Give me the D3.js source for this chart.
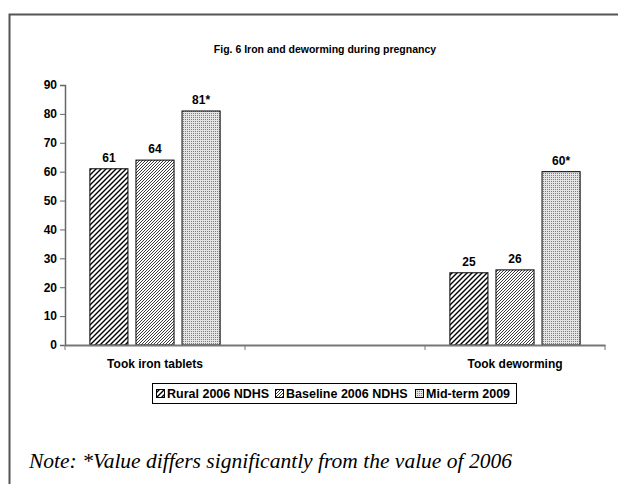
<!DOCTYPE html>
<html>
<head>
<meta charset="utf-8">
<script src="https://cdn.jsdelivr.net/npm/d3@7"></script>
<style>
  body { margin: 0; background: #fff; }
  text { font-family: "Liberation Sans", Arial, sans-serif; }
</style>
</head>
<body>
<div class="chart"></div>
<script>
// chart data
var categories = ["Took iron tablets", "", "Took deworming"];
var seriesNames = ["Rural 2006 NDHS", "Baseline 2006 NDHS", "Mid-term 2009"];
var rural = [61, null, 25];
var baseline = [64, null, 26];
var midterm = [81, null, 60];
var valueLabels = [["61", "64", "81*"], ["", "", ""], ["25", "26", "60*"]];
var yTicks = [0, 10, 20, 30, 40, 50, 60, 70, 80, 90];

var svgWidth = 618, svgHeight = 484;
var margin = { top: 85, left: 65, right: 13, bottom: 139 };
var width = svgWidth - margin.left - margin.right;
var height = svgHeight - margin.top - margin.bottom;

var svg = d3.select(".chart").append("svg")
  .attr("width", svgWidth)
  .attr("height", svgHeight);

// fill patterns
var defs = svg.append("defs");

var p1 = defs.append("pattern").attr("id", "pat0")
  .attr("patternUnits", "userSpaceOnUse").attr("width", 5).attr("height", 5);
p1.append("rect").attr("width", 5).attr("height", 5).attr("fill", "#fff");
p1.append("path").attr("d", "M-1,1 l2,-2 M0,5 l5,-5 M4,6 l2,-2")
  .attr("stroke", "#000").attr("stroke-width", 1.4);

// fine diagonal, drawn pixel by pixel
var p2 = defs.append("pattern").attr("id", "pat1")
  .attr("patternUnits", "userSpaceOnUse").attr("width", 3).attr("height", 3);
p2.append("rect").attr("width", 3).attr("height", 3).attr("fill", "#fff");
[[0, 2], [1, 1], [2, 0]].forEach(function (p) {
  p2.append("rect").attr("x", p[0]).attr("y", p[1])
    .attr("width", 1).attr("height", 1)
    .attr("fill", "#3a3a3a").attr("shape-rendering", "crispEdges");
});

var p3 = defs.append("pattern").attr("id", "pat2")
  .attr("patternUnits", "userSpaceOnUse").attr("width", 2).attr("height", 2);
p3.append("rect").attr("width", 2).attr("height", 2).attr("fill", "#e4e4e4");
p3.append("rect").attr("width", 1).attr("height", 1).attr("fill", "#808080")
  .attr("shape-rendering", "crispEdges");

// outer frame
svg.append("path")
  .attr("d", "M9.5," + (svgHeight + 5) + " V14.5 H" + (svgWidth + 5))
  .attr("fill", "none")
  .attr("stroke", "#555")
  .attr("stroke-width", 2);

// title
svg.append("text")
  .attr("x", 325)
  .attr("y", 53)
  .attr("text-anchor", "middle")
  .attr("font-size", "10.5px")
  .attr("font-weight", "bold")
  .text("Fig. 6 Iron and deworming during pregnancy");

var chartGroup = svg.append("g")
  .attr("transform", `translate(${margin.left}, ${margin.top})`);

// scales
var x0 = d3.scaleBand()
  .domain(categories)
  .range([0, width]);

var x1 = d3.scaleBand()
  .domain(seriesNames)
  .range([0, x0.bandwidth()])
  .paddingInner(0.174)
  .paddingOuter(0.54);

var y = d3.scaleLinear()
  .domain([0, 90])
  .range([height, 0]);

// y axis
var yAxis = chartGroup.append("g")
  .call(d3.axisLeft(y).tickValues(yTicks).tickSize(5).tickPadding(3));
yAxis.select(".domain").attr("stroke", "#666").attr("stroke-width", 1.5);
yAxis.selectAll(".tick line").attr("stroke", "#666");
yAxis.selectAll("text")
  .style("font-size", "12px")
  .style("font-weight", "bold")
  .attr("fill", "#000");

// bars
var allSeries = [rural, baseline, midterm];
var barData = [];
categories.forEach(function (c, i) {
  allSeries.forEach(function (s, j) {
    if (s[i] != null) {
      barData.push({ cat: c, series: seriesNames[j], idx: j, value: s[i], label: valueLabels[i][j] });
    }
  });
});

chartGroup.selectAll(".bar")
  .data(barData)
  .enter()
  .append("rect")
  .attr("class", "bar")
  .attr("x", d => x0(d.cat) + x1(d.series))
  .attr("y", d => y(d.value))
  .attr("width", x1.bandwidth())
  .attr("height", d => height - y(d.value))
  .attr("fill", d => "url(#pat" + d.idx + ")")
  .attr("stroke", "#000")
  .attr("stroke-width", 1);

chartGroup.selectAll(".vlabel")
  .data(barData)
  .enter()
  .append("text")
  .attr("class", "vlabel")
  .attr("x", d => x0(d.cat) + x1(d.series) + x1.bandwidth() / 2)
  .attr("y", d => y(d.value) - 7)
  .attr("text-anchor", "middle")
  .attr("font-size", "12px")
  .attr("font-weight", "bold")
  .text(d => d.label);

// x axis
var xAxis = chartGroup.append("g")
  .attr("transform", `translate(0, ${height})`)
  .call(d3.axisBottom(x0).tickSize(0).tickPadding(14));
xAxis.select(".domain").attr("stroke", "#777").attr("stroke-width", 2);
xAxis.selectAll("text")
  .style("font-size", "12px")
  .style("font-weight", "bold")
  .attr("fill", "#000");

// tick marks between categories
var sepTicks = categories.map(c => x0(c)).concat([width]);
chartGroup.selectAll(".sep")
  .data(sepTicks)
  .enter()
  .append("line")
  .attr("x1", d => d).attr("x2", d => d)
  .attr("y1", height).attr("y2", height + 5)
  .attr("stroke", "#777")
  .attr("stroke-width", 1);

// legend
var legend = svg.append("g").attr("transform", "translate(152, 383)");
legend.append("rect")
  .attr("x", 0.5).attr("y", 0.5)
  .attr("width", 364).attr("height", 20)
  .attr("fill", "#fff")
  .attr("stroke", "#000");

var legendX = [4, 123, 263];
var items = legend.selectAll(".item")
  .data(seriesNames)
  .enter()
  .append("g")
  .attr("transform", (d, i) => `translate(${legendX[i]}, 0)`);
items.append("rect")
  .attr("x", 0.5).attr("y", 6.5)
  .attr("width", 8).attr("height", 8)
  .attr("fill", (d, i) => "url(#pat" + i + ")")
  .attr("stroke", "#000");
items.append("text")
  .attr("x", 11)
  .attr("y", 15)
  .attr("font-size", "12.5px")
  .attr("font-weight", "bold")
  .text(d => d);

// note
svg.append("text")
  .attr("x", 29)
  .attr("y", 468)
  .style("font-family", "'Liberation Serif', 'Times New Roman', serif")
  .style("font-style", "italic")
  .style("font-size", "21.5px")
  .text("Note: *Value differs significantly from the value of 2006");
</script>
</body>
</html>
